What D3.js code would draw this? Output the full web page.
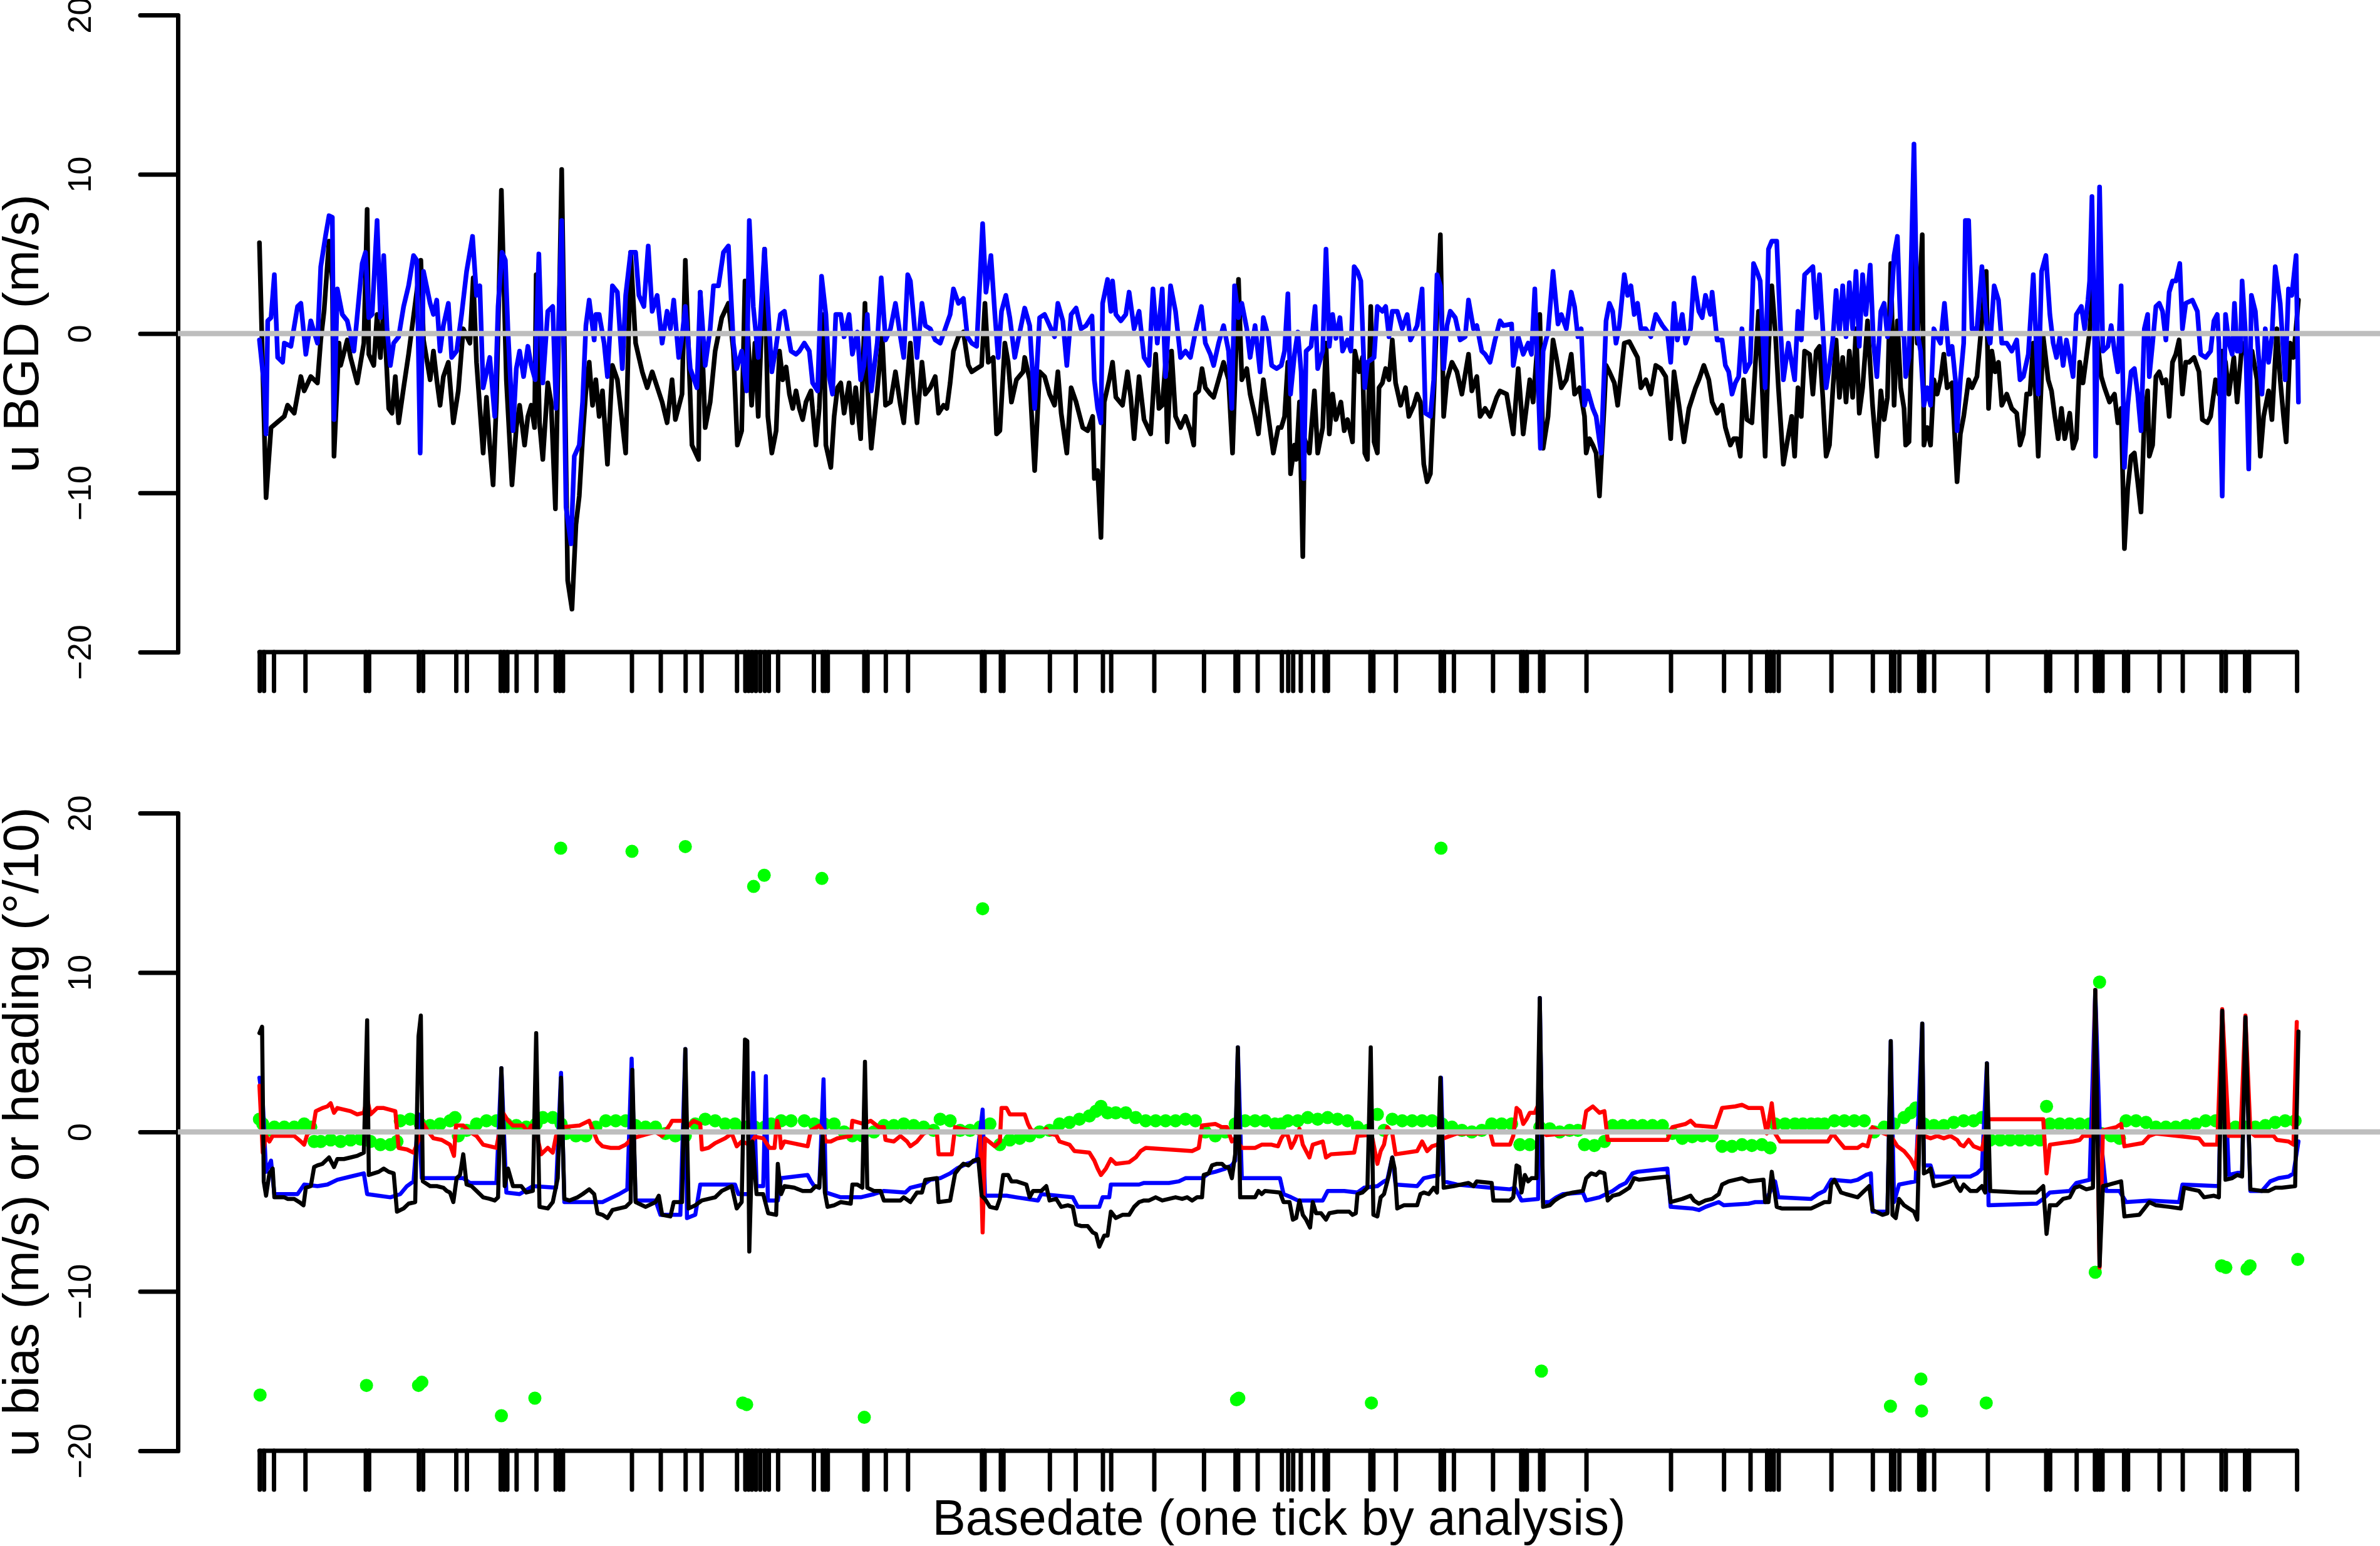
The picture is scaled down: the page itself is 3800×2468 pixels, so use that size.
<!DOCTYPE html>
<html>
<head>
<meta charset="utf-8">
<script src="https://cdn.jsdelivr.net/npm/d3@7"></script>
<style>body{margin:0;background:#ffffff;}</style>
</head>
<body>
<script>
// basedate of each analysis (one tick each), same time units as the series
var analysisT = [25,38,68,163,345,355,505,518,618,650,752,762,772,800,860,918,930,940,1148,1235,1310,1358,1465,1490,1500,1510,1522,1535,
  1549,1561,1589,1697,1724,1731,1739,1849,1859,1914,1981,2204,2212,2261,2269,2409,2487,2569,2594,2724,2874,2969,2977,3036,3109,
  3128,3143,3166,3203,3238,3248,3376,3385,3453,3588,3598,3628,3746,3831,3838,3848,3888,3898,4028,4283,4443,4523,4573,4583,4593,4608,
  4767,4892,4947,4957,4972,5032,5040,5047,5077,5239,5415,5427,5507,5562,5569,5577,5585,5650,5662,5757,5827,5944,5957,6015,6027,6172];
var yTicks = [-20, -10, 0, 10, 20];
var yDomain = [-20, 20];

// top panel: u background departure (black) and second u BGD (blue)
var bgdBlack = [[25,5.7],[45,-10.3],[60,-5.9],[100,-5.2],[110,-4.5],[130,-5.0],[150,-2.7],[160,-3.6],[180,-2.7],[200,-3.1],[210,-0.4],[220,1.4],[235,5.8],[245,3.3],[250,-7.7],[265,-0.6],[270,-2.0],[290,-0.4],[300,-1.5],[320,-3.1],[340,-0.6],[350,7.8],[355,-1.3],[370,-2.0],[380,1.2],[390,-1.5],[400,1.7],[415,-4.7],[425,-5.0],[435,-2.7],[445,-5.6],[460,-3.4],[475,-1.3],[485,0.3],[512,4.6],[520,-0.4],[540,-2.9],[550,-1.1],[560,-2.9],[570,-4.5],[580,-2.7],[595,-1.8],[610,-5.6],[625,-3.6],[640,0.3],[660,-0.6],[670,3.5],[680,-1.8],[700,-7.5],[710,-4.0],[720,-7.0],[730,-9.5],[740,-4.3],[755,9.0],[770,-2.9],[787,-9.5],[800,-5.9],[810,-4.5],[825,-7.0],[835,-5.2],[845,-4.5],[855,-5.9],[860,3.7],[870,-5.6],[880,-7.9],[895,-3.1],[905,-4.3],[918,-11.0],[937,10.3],[945,-0.6],[955,-15.5],[968,-17.3],[980,-12.0],[990,-10.2],[1000,-6.6],[1010,-3.6],[1020,-1.8],[1030,-4.5],[1040,-2.9],[1050,-5.2],[1060,-3.6],[1075,-8.2],[1090,-2.0],[1105,-2.9],[1130,-7.5],[1145,5.1],[1160,-0.6],[1180,-2.4],[1195,-3.4],[1210,-2.4],[1240,-4.3],[1255,-5.6],[1270,-2.9],[1280,-5.4],[1300,-3.8],[1310,4.6],[1330,-7.0],[1350,-7.9],[1355,2.6],[1370,-5.9],[1385,-4.3],[1400,-1.1],[1420,1.0],[1440,1.9],[1455,-1.1],[1467,-7.0],[1480,-6.1],[1490,3.3],[1510,-4.5],[1520,-0.6],[1530,-5.2],[1549,5.3],[1559,-5.2],[1571,-7.5],[1584,-6.1],[1594,-1.1],[1604,-2.9],[1614,-2.1],[1624,-3.8],[1634,-4.7],[1644,-3.6],[1654,-4.7],[1664,-5.4],[1674,-4.3],[1689,-3.6],[1704,-7.0],[1714,-4.7],[1727,1.2],[1734,-7.0],[1749,-8.4],[1759,-5.2],[1769,-3.4],[1779,-3.1],[1789,-5.0],[1804,-3.1],[1814,-5.6],[1824,-3.4],[1839,-6.6],[1852,1.9],[1859,-3.1],[1871,-7.2],[1889,-3.6],[1904,-0.2],[1914,-4.5],[1929,-4.3],[1944,-2.4],[1959,-4.5],[1969,-5.6],[1989,-0.6],[1999,-3.4],[2009,-5.6],[2024,-1.8],[2034,-3.8],[2049,-3.4],[2064,-2.7],[2074,-5.0],[2089,-4.5],[2099,-4.7],[2109,-3.1],[2119,-1.1],[2134,-0.2],[2149,0.1],[2164,-2.0],[2174,-2.4],[2189,-2.2],[2204,-2.0],[2214,1.9],[2224,-1.8],[2239,-1.5],[2249,-6.3],[2259,-6.1],[2274,-0.6],[2284,-1.8],[2294,-4.3],[2309,-2.9],[2329,-2.4],[2334,-1.5],[2349,-2.9],[2364,-8.6],[2379,-2.4],[2394,-2.7],[2409,-3.8],[2424,-4.5],[2434,-2.4],[2444,-5.0],[2461,-7.5],[2474,-3.4],[2489,-4.3],[2509,-5.9],[2524,-6.1],[2539,-5.2],[2544,-9.1],[2554,-8.6],[2564,-12.8],[2574,-4.3],[2589,-2.9],[2599,-1.8],[2609,-4.0],[2629,-4.5],[2644,-2.4],[2654,-4.0],[2664,-6.6],[2679,-2.7],[2694,-5.4],[2714,-6.3],[2729,-1.3],[2739,-4.7],[2749,-4.5],[2759,-1.8],[2764,-6.8],[2777,-1.1],[2789,-5.2],[2804,-5.9],[2819,-5.2],[2834,-6.1],[2844,-7.0],[2849,-3.8],[2859,-3.6],[2869,-2.2],[2879,-3.4],[2894,-3.8],[2904,-4.0],[2919,-2.9],[2934,-1.8],[2949,-2.9],[2961,-7.5],[2979,3.4],[2989,-2.9],[3004,-2.2],[3014,-3.8],[3029,-5.2],[3039,-6.3],[3054,-2.9],[3069,-5.2],[3084,-7.5],[3099,-5.9],[3108,-5.9],[3118,-5.2],[3128,-1.8],[3136,-8.8],[3148,-7.0],[3153,-7.9],[3163,-4.3],[3173,-14.0],[3178,-6.6],[3193,-7.5],[3208,-3.6],[3218,-7.5],[3233,-5.9],[3243,-0.6],[3253,-6.3],[3263,-3.8],[3273,-5.4],[3288,-4.3],[3298,-6.1],[3308,-5.4],[3323,-6.8],[3330,-1.1],[3343,-2.4],[3353,-1.5],[3360,-7.5],[3368,-7.9],[3378,1.7],[3388,-6.8],[3398,-7.5],[3403,-3.4],[3413,-3.1],[3423,-2.2],[3433,-2.9],[3443,-0.4],[3453,-3.1],[3468,-4.5],[3483,-3.4],[3493,-5.2],[3508,-4.5],[3518,-3.8],[3528,-4.3],[3538,-8.2],[3548,-9.3],[3558,-8.8],[3568,-4.0],[3578,1.4],[3588,6.2],[3598,-5.2],[3608,-2.9],[3623,-1.8],[3638,-2.4],[3653,-3.8],[3673,-1.3],[3683,-3.6],[3698,-2.7],[3708,-5.2],[3723,-4.7],[3738,-5.2],[3758,-4.0],[3768,-3.6],[3788,-3.8],[3808,-6.3],[3823,-2.2],[3838,-6.3],[3858,-2.9],[3868,-4.3],[3888,1.2],[3898,-7.2],[3913,-5.2],[3928,-0.4],[3938,-1.5],[3953,-3.4],[3968,-2.9],[3983,-1.3],[3993,-3.8],[4008,-3.4],[4023,-5.2],[4028,-7.5],[4038,-6.6],[4048,-7.0],[4058,-7.5],[4068,-10.2],[4083,-4.3],[4088,-2.0],[4098,-2.4],[4113,-3.1],[4123,-4.5],[4143,-0.6],[4158,-0.5],[4173,-1.1],[4183,-1.5],[4193,-3.4],[4208,-2.9],[4223,-3.8],[4238,-2.0],[4253,-2.2],[4268,-2.7],[4283,-6.6],[4293,-2.4],[4308,-4.5],[4323,-6.8],[4338,-4.7],[4358,-3.4],[4368,-2.9],[4383,-2.0],[4398,-2.9],[4408,-4.3],[4423,-5.0],[4438,-4.5],[4448,-5.9],[4463,-7.0],[4473,-6.6],[4483,-6.6],[4493,-7.7],[4503,-2.9],[4513,-5.4],[4528,-5.6],[4548,1.4],[4558,-2.9],[4568,-7.7],[4578,-1.1],[4588,3.0],[4598,0.3],[4608,-3.4],[4623,-8.2],[4633,-7.0],[4648,-5.2],[4657,-7.7],[4667,-3.4],[4677,-5.2],[4687,-1.1],[4702,-1.3],[4712,-3.8],[4722,-1.1],[4732,-0.8],[4742,-4.0],[4752,-7.7],[4762,-7.0],[4772,-3.6],[4782,-0.4],[4792,-4.0],[4802,-1.5],[4812,-4.3],[4822,-1.1],[4832,-4.0],[4842,0.3],[4852,-5.0],[4862,-3.4],[4877,0.8],[4892,-4.5],[4905,-7.7],[4917,-3.6],[4927,-5.4],[4937,-4.0],[4947,4.4],[4957,-4.5],[4967,0.8],[4977,-3.4],[4987,-4.7],[4992,-7.0],[5002,-6.8],[5017,4.6],[5027,-0.6],[5042,6.2],[5047,-7.0],[5057,-5.9],[5067,-7.0],[5077,-2.9],[5087,-3.8],[5097,-2.9],[5107,-1.3],[5117,-3.4],[5132,-3.1],[5147,-9.3],[5157,-6.3],[5167,-5.2],[5182,-2.9],[5192,-3.4],[5207,-2.7],[5222,0.8],[5235,3.9],[5242,-4.7],[5252,-1.1],[5262,-2.4],[5272,-1.8],[5282,-4.5],[5297,-3.8],[5312,-4.7],[5327,-5.0],[5337,-7.0],[5347,-6.3],[5357,-3.8],[5367,-3.8],[5377,-0.6],[5392,-7.7],[5407,-0.2],[5422,-2.9],[5432,-3.6],[5442,-5.2],[5452,-6.6],[5462,-4.7],[5472,-6.6],[5487,-5.0],[5497,-7.2],[5507,-6.6],[5517,-1.8],[5527,-3.1],[5537,-1.5],[5547,0.1],[5557,3.0],[5567,0.3],[5582,-2.7],[5592,-3.4],[5607,-4.3],[5622,-3.8],[5632,-5.6],[5642,-4.7],[5652,-13.5],[5662,-9.7],[5672,-7.7],[5682,-7.5],[5692,-9.3],[5702,-11.2],[5712,-5.4],[5722,-3.6],[5727,-7.7],[5737,-7.0],[5747,-2.7],[5757,-2.4],[5767,-3.1],[5777,-2.9],[5787,-5.2],[5797,-1.8],[5807,-1.3],[5817,-0.4],[5827,-3.8],[5837,-1.8],[5847,-1.8],[5862,-1.5],[5877,-2.4],[5887,-5.4],[5902,-5.6],[5912,-5.2],[5927,-2.9],[5937,-3.8],[5947,-1.1],[5957,-1.8],[5967,-3.8],[5982,-1.5],[5992,-4.3],[6007,-0.6],[6022,-1.5],[6037,-1.1],[6052,-2.9],[6062,-7.7],[6072,-5.2],[6087,-3.6],[6097,-5.4],[6112,0.3],[6122,-2.9],[6132,-5.2],[6140,-6.8],[6152,-0.6],[6162,-1.5],[6177,2.1]];

var bgdBlue = [[25,-0.4],[40,-3.4],[45,-6.3],[50,0.8],[60,1.0],[70,3.7],[80,-1.5],[95,-1.8],[100,-0.6],[120,-0.8],[140,1.7],[150,1.9],[165,-1.3],[180,0.8],[200,-0.6],[210,4.2],[225,6.2],[235,7.4],[245,7.3],[250,-5.4],[260,2.8],[275,1.2],[290,0.8],[310,-1.1],[335,4.4],[345,5.1],[355,1.0],[365,1.2],[380,7.1],[390,1.0],[400,4.9],[410,0.3],[420,-2.0],[430,-0.6],[445,-0.2],[460,1.7],[475,3.0],[490,4.9],[500,4.6],[510,-7.5],[520,3.9],[540,1.9],[550,1.2],[560,2.1],[570,-1.1],[580,0.5],[595,1.9],[605,-1.5],[620,-1.1],[635,1.2],[650,3.9],[668,6.1],[680,2.4],[690,3.0],[700,-3.4],[720,-1.5],[735,-5.2],[745,1.7],[757,5.1],[767,4.6],[775,0.1],[790,-6.1],[800,-2.2],[810,-1.1],[822,-2.7],[835,-0.8],[845,-2.0],[857,-2.9],[868,5.0],[880,-3.1],[895,1.4],[910,1.7],[920,-4.7],[937,7.1],[950,-10.9],[965,-13.2],[975,-7.7],[990,-7.0],[1000,-4.3],[1010,0.5],[1020,2.1],[1035,-0.4],[1040,1.2],[1050,1.2],[1065,-0.6],[1075,-2.7],[1090,3.0],[1105,2.6],[1120,-2.2],[1130,2.4],[1145,5.1],[1160,5.1],[1170,2.4],[1185,1.7],[1198,5.5],[1210,1.4],[1225,2.4],[1240,-0.6],[1255,1.4],[1265,0.3],[1275,2.1],[1290,-1.5],[1300,-0.2],[1310,1.7],[1325,-2.2],[1345,-3.4],[1355,2.6],[1370,-2.0],[1385,0.3],[1395,3.0],[1410,3.0],[1425,5.1],[1440,5.5],[1455,-0.6],[1465,-2.2],[1480,-1.1],[1495,-3.6],[1503,7.1],[1515,1.7],[1530,-1.5],[1549,5.3],[1559,1.7],[1571,-2.4],[1584,-0.8],[1597,1.2],[1609,1.4],[1619,0.1],[1629,-1.1],[1644,-1.3],[1654,-1.1],[1669,-0.6],[1684,-1.1],[1694,-3.1],[1709,-3.6],[1721,3.6],[1734,1.2],[1744,-2.7],[1754,-3.8],[1764,1.2],[1779,1.2],[1789,-0.2],[1804,1.2],[1814,-1.3],[1829,0.1],[1839,-2.9],[1849,-2.0],[1859,1.2],[1871,-3.6],[1889,-0.6],[1901,3.5],[1914,-0.4],[1929,0.3],[1944,1.9],[1959,-0.2],[1969,-1.5],[1981,3.7],[1989,3.3],[1999,1.0],[2009,-1.5],[2024,1.9],[2034,0.5],[2049,0.3],[2064,-0.4],[2079,-0.6],[2094,0.3],[2109,1.2],[2119,2.8],[2134,1.9],[2149,2.2],[2161,-0.2],[2174,-0.6],[2189,-0.8],[2207,6.9],[2217,2.6],[2232,4.9],[2244,1.2],[2254,-1.5],[2264,1.4],[2277,2.4],[2289,1.0],[2304,-1.5],[2319,0.1],[2334,1.6],[2349,0.5],[2364,-4.7],[2379,1.0],[2394,1.2],[2409,0.5],[2424,-0.2],[2434,1.9],[2449,0.8],[2461,-2.0],[2474,1.2],[2489,1.6],[2504,0.3],[2519,0.5],[2537,1.1],[2544,-2.9],[2554,-4.7],[2564,-5.6],[2569,1.9],[2584,3.4],[2594,1.4],[2599,3.3],[2609,1.2],[2624,0.8],[2639,1.2],[2649,2.6],[2664,0.3],[2679,1.4],[2694,-1.5],[2709,-2.0],[2721,2.8],[2734,-0.6],[2749,2.8],[2759,-2.7],[2774,3.0],[2789,1.4],[2804,-1.5],[2819,-1.1],[2834,-1.5],[2849,0.1],[2867,1.7],[2879,-0.6],[2894,-1.3],[2904,-2.0],[2919,-0.6],[2934,0.5],[2949,-1.1],[2959,-4.7],[2967,3.0],[2979,1.0],[2989,1.9],[3004,0.3],[3014,-1.5],[3029,0.5],[3044,-2.4],[3054,1.0],[3069,-0.2],[3079,-2.0],[3094,-2.2],[3108,-2.0],[3118,-1.1],[3128,2.5],[3136,-3.8],[3148,-1.3],[3158,0.1],[3168,-2.4],[3176,-9.1],[3183,-1.1],[3198,-0.8],[3210,1.7],[3218,-2.2],[3233,-1.1],[3243,5.3],[3253,-0.8],[3263,1.2],[3273,-0.3],[3285,1.0],[3293,-1.1],[3308,-0.4],[3318,-1.1],[3328,4.2],[3338,3.9],[3348,3.3],[3360,-3.4],[3368,-1.8],[3388,-1.5],[3398,1.7],[3413,1.4],[3423,1.7],[3433,-0.2],[3443,1.4],[3458,1.4],[3473,0.3],[3488,1.2],[3498,-0.4],[3518,0.5],[3533,2.8],[3543,-5.0],[3558,-5.2],[3568,-2.9],[3578,3.7],[3588,3.0],[3598,-2.2],[3608,0.5],[3618,1.4],[3633,1.0],[3648,-0.4],[3663,-0.2],[3673,2.1],[3688,0.3],[3698,0.5],[3713,-1.1],[3723,-1.3],[3738,-1.8],[3753,-0.4],[3768,0.8],[3778,0.5],[3803,0.6],[3808,-2.0],[3823,-0.2],[3838,-1.3],[3853,-0.6],[3863,-1.3],[3873,2.8],[3890,-7.2],[3898,-1.1],[3913,0.1],[3928,3.9],[3943,0.6],[3953,1.2],[3968,0.3],[3983,2.6],[3993,1.7],[4003,-0.2],[4013,0.3],[4023,-4.5],[4033,-3.6],[4048,-4.7],[4058,-5.2],[4073,-7.5],[4083,-2.0],[4088,0.8],[4098,1.9],[4108,1.4],[4118,-0.6],[4128,0.5],[4143,3.7],[4153,2.4],[4163,3.0],[4173,1.2],[4183,1.9],[4193,0.3],[4208,0.3],[4223,-0.2],[4238,1.2],[4258,0.5],[4273,0.1],[4283,-1.8],[4293,1.9],[4303,-0.4],[4318,1.2],[4328,-0.6],[4343,0.3],[4353,3.5],[4368,1.4],[4378,1.0],[4388,2.4],[4403,1.2],[4408,2.6],[4423,-0.4],[4438,-0.4],[4448,-2.0],[4458,-2.4],[4468,-3.8],[4478,-3.1],[4488,-2.7],[4498,0.3],[4508,-2.4],[4523,-1.8],[4533,4.4],[4543,3.9],[4553,3.3],[4568,-3.4],[4578,5.3],[4588,5.8],[4603,5.8],[4613,0.8],[4623,-2.9],[4638,-0.6],[4657,-2.9],[4667,1.4],[4677,-0.4],[4687,3.7],[4697,3.9],[4712,4.2],[4722,1.0],[4732,3.7],[4742,0.3],[4752,-3.4],[4762,-2.0],[4772,-0.4],[4782,2.7],[4792,0.1],[4802,3.0],[4812,-0.2],[4822,3.2],[4832,0.3],[4842,3.9],[4852,-0.8],[4862,3.7],[4872,1.2],[4885,4.3],[4895,-0.6],[4905,-2.7],[4917,1.4],[4927,1.9],[4937,-0.2],[4947,1.2],[4957,4.9],[4967,6.1],[4977,0.1],[4987,-0.2],[4992,-2.7],[5002,-1.5],[5017,11.9],[5027,0.1],[5037,-1.1],[5047,-4.5],[5057,-3.4],[5067,-4.5],[5077,0.3],[5087,-0.2],[5097,-0.6],[5109,1.9],[5122,-1.3],[5132,-0.8],[5142,-2.9],[5147,-6.1],[5157,-2.9],[5167,-0.6],[5172,7.1],[5182,7.1],[5192,0.3],[5207,0.3],[5222,4.2],[5237,0.3],[5247,-0.6],[5259,3.0],[5272,2.1],[5282,-0.6],[5297,-0.6],[5312,-1.1],[5327,-0.4],[5337,-2.9],[5347,-2.7],[5362,-1.3],[5377,3.7],[5392,-3.8],[5402,3.9],[5415,4.9],[5427,1.2],[5437,-0.6],[5447,-1.5],[5457,-0.2],[5467,-2.0],[5477,-0.4],[5487,-1.5],[5497,-2.7],[5507,1.2],[5522,1.7],[5532,0.3],[5542,2.1],[5547,3.3],[5554,8.6],[5562,-0.4],[5565,-7.7],[5577,9.2],[5587,-1.1],[5602,-0.8],[5612,0.5],[5622,-1.1],[5632,-2.4],[5642,3.0],[5652,-8.4],[5662,-4.5],[5672,-2.4],[5682,-2.2],[5692,-3.8],[5702,-6.1],[5712,0.3],[5722,1.2],[5727,-2.7],[5737,-0.6],[5747,1.7],[5757,1.9],[5767,1.4],[5777,-0.4],[5787,2.6],[5797,3.3],[5807,3.3],[5819,4.4],[5827,0.3],[5837,1.9],[5857,2.1],[5872,1.4],[5882,-1.3],[5897,-1.5],[5912,-1.1],[5922,0.8],[5932,1.2],[5937,-0.6],[5947,-10.2],[5957,1.2],[5967,-0.6],[5977,-1.3],[5984,1.9],[5992,-1.1],[6002,-1.1],[6007,3.3],[6017,0.1],[6027,-8.5],[6035,2.4],[6047,1.4],[6057,-1.5],[6067,-3.8],[6077,0.3],[6087,-1.8],[6097,-0.2],[6107,4.2],[6122,1.9],[6137,-2.9],[6147,2.8],[6157,2.4],[6170,4.9],[6177,-4.3]];

// bottom panel: u bias (black, blue, red) and heading /10 (green points)
var biasBlack = [[25,6.2],[33,6.6],[38,-3.1],[45,-4.0],[55,-2.6],[65,-2.3],[70,-4.1],[100,-4.1],[110,-4.2],[130,-4.2],[145,-4.4],[158,-4.6],[165,-3.5],[180,-3.4],[190,-2.2],[200,-2.1],[215,-2.0],[235,-1.6],[250,-2.2],[260,-1.7],[280,-1.7],[300,-1.6],[320,-1.5],[340,-1.3],[350,7.0],[355,-2.7],[370,-2.6],[385,-2.5],[400,-2.3],[415,-2.5],[430,-2.6],[440,-5.0],[460,-4.8],[475,-4.5],[495,-4.4],[505,6.0],[512,7.3],[518,-3.1],[540,-3.4],[560,-3.4],[580,-3.5],[590,-3.7],[600,-3.8],[610,-4.4],[620,-2.9],[630,-2.7],[640,-1.4],[650,-3.3],[665,-3.4],[680,-3.7],[700,-4.1],[720,-4.2],[735,-4.3],[745,-4.1],[755,4.0],[765,-3.4],[775,-2.3],[790,-3.4],[815,-3.4],[830,-3.8],[850,-3.7],[860,6.2],[870,-4.7],[895,-4.8],[910,-4.4],[925,-2.9],[935,3.4],[945,-4.2],[960,-4.3],[985,-4.1],[1000,-3.9],[1020,-3.6],[1035,-3.9],[1045,-5.1],[1060,-5.2],[1075,-5.4],[1090,-4.9],[1110,-4.8],[1130,-4.7],[1145,-4.4],[1150,3.9],[1160,-4.4],[1190,-4.7],[1220,-4.4],[1230,-4.0],[1240,-5.2],[1265,-5.3],[1275,-4.4],[1300,-4.4],[1310,5.2],[1320,-4.8],[1340,-4.6],[1360,-4.3],[1400,-4.1],[1420,-3.7],[1450,-3.4],[1465,-4.8],[1480,-4.4],[1490,5.8],[1497,5.7],[1503,-7.5],[1512,-0.6],[1525,-3.9],[1545,-3.9],[1560,-5.1],[1584,-5.2],[1589,-2.0],[1599,-3.9],[1609,-3.4],[1639,-3.5],[1664,-3.7],[1689,-3.7],[1704,-3.4],[1714,-3.5],[1724,-0.25],[1731,-3.8],[1739,-4.7],[1759,-4.6],[1779,-4.4],[1809,-4.5],[1814,-3.3],[1829,-3.3],[1844,-3.5],[1852,4.4],[1859,-3.5],[1879,-3.7],[1899,-3.7],[1909,-4.3],[1959,-4.3],[1969,-4.1],[1989,-4.4],[2009,-3.8],[2024,-3.8],[2034,-3.0],[2069,-2.9],[2074,-4.4],[2109,-4.3],[2124,-2.6],[2139,-2.2],[2149,-2.0],[2164,-2.1],[2179,-1.8],[2194,-1.7],[2204,-4.0],[2214,-4.2],[2229,-4.7],[2249,-4.8],[2259,-4.2],[2269,-2.7],[2284,-2.7],[2294,-3.1],[2309,-3.1],[2339,-3.3],[2349,-4.1],[2359,-3.7],[2384,-3.7],[2399,-3.4],[2409,-4.3],[2429,-4.2],[2444,-4.7],[2464,-4.6],[2479,-4.7],[2489,-5.8],[2504,-5.9],[2524,-5.9],[2539,-6.3],[2549,-6.4],[2559,-7.2],[2574,-6.5],[2584,-6.5],[2594,-5.0],[2609,-5.4],[2629,-5.2],[2649,-5.2],[2664,-4.7],[2679,-4.4],[2694,-4.3],[2709,-4.3],[2729,-4.1],[2749,-4.3],[2769,-4.2],[2789,-4.1],[2809,-4.2],[2824,-4.1],[2839,-4.3],[2854,-4.1],[2869,-4.1],[2874,-2.7],[2889,-2.6],[2899,-2.1],[2914,-2.0],[2929,-2.0],[2939,-2.2],[2949,-2.2],[2959,-2.9],[2969,-1.4],[2977,5.3],[2984,-4.1],[3029,-4.1],[3039,-3.7],[3049,-3.9],[3059,-3.7],[3104,-3.8],[3115,-4.4],[3133,-4.4],[3143,-5.5],[3153,-5.4],[3163,-4.3],[3173,-5.2],[3183,-5.5],[3195,-6.0],[3203,-4.4],[3213,-5.1],[3228,-5.1],[3243,-5.5],[3253,-5.1],[3278,-5.0],[3313,-5.0],[3323,-5.2],[3333,-5.1],[3338,-3.9],[3353,-3.8],[3368,-3.5],[3378,5.3],[3386,-5.2],[3398,-5.3],[3408,-4.1],[3418,-3.9],[3433,-2.7],[3443,-1.6],[3450,-2.3],[3458,-4.8],[3478,-4.6],[3518,-4.6],[3528,-3.9],[3538,-3.8],[3553,-3.9],[3568,-3.5],[3578,-3.8],[3588,3.4],[3598,-3.5],[3628,-3.4],[3673,-3.2],[3688,-3.4],[3698,-3.1],[3743,-3.2],[3748,-4.3],[3798,-4.3],[3808,-4.1],[3818,-2.1],[3826,-2.2],[3833,-3.8],[3843,-2.7],[3853,-3.1],[3863,-2.9],[3878,-2.9],[3888,8.4],[3898,-4.7],[3918,-4.6],[3933,-4.3],[3948,-4.1],[3968,-3.9],[3988,-3.8],[4018,-3.7],[4028,-2.9],[4043,-2.6],[4058,-2.7],[4068,-2.5],[4083,-2.6],[4093,-4.3],[4108,-4.0],[4128,-3.9],[4143,-3.7],[4158,-3.5],[4173,-2.9],[4188,-3.0],[4228,-2.9],[4273,-2.8],[4283,-4.4],[4318,-4.2],[4343,-4.0],[4353,-4.3],[4368,-4.5],[4388,-4.3],[4408,-4.2],[4428,-3.9],[4438,-3.3],[4458,-3.1],[4498,-2.9],[4518,-3.1],[4563,-3.0],[4568,-4.4],[4578,-4.4],[4588,-2.5],[4603,-4.7],[4618,-4.8],[4677,-4.8],[4707,-4.8],[4727,-4.6],[4747,-4.4],[4762,-4.4],[4767,-3.3],[4777,-3.0],[4787,-3.4],[4797,-3.8],[4812,-3.9],[4847,-4.1],[4862,-3.8],[4882,-3.4],[4892,-4.9],[4922,-5.2],[4937,-5.1],[4947,5.7],[4952,-5.2],[4962,-5.4],[4972,-4.2],[4987,-4.6],[5002,-4.8],[5017,-5.0],[5027,-5.5],[5042,6.8],[5047,-2.6],[5057,-2.5],[5067,-2.3],[5077,-3.4],[5097,-3.3],[5127,-3.1],[5137,-2.9],[5147,-3.4],[5157,-3.7],[5167,-3.3],[5187,-3.7],[5207,-3.7],[5222,-3.4],[5232,-3.8],[5237,4.3],[5247,-3.7],[5337,-3.8],[5387,-3.8],[5407,-3.4],[5417,-6.4],[5427,-4.6],[5447,-4.6],[5467,-4.2],[5487,-4.1],[5502,-3.5],[5517,-3.4],[5537,-3.6],[5557,-3.5],[5564,8.9],[5577,-8.4],[5587,-3.4],[5607,-3.3],[5642,-3.1],[5652,-5.3],[5697,-5.2],[5712,-4.8],[5727,-4.4],[5747,-4.6],[5787,-4.7],[5822,-4.8],[5832,-3.5],[5877,-3.7],[5892,-4.1],[5922,-4.0],[5937,-4.1],[5947,7.6],[5957,-3.0],[5977,-2.9],[5992,-2.7],[6007,-2.8],[6017,7.2],[6032,-3.6],[6067,-3.7],[6087,-3.7],[6107,-3.5],[6127,-3.5],[6167,-3.4],[6177,6.3]];

var biasBlue = [[25,3.4],[35,1.9],[45,-2.5],[60,-1.8],[70,-3.9],[140,-3.9],[160,-3.3],[200,-3.4],[230,-3.3],[260,-3.0],[300,-2.8],[340,-2.6],[350,-3.9],[420,-4.1],[450,-3.9],[470,-3.4],[490,-3.1],[505,1.1],[515,-2.9],[610,-2.9],[640,-2.9],[660,-3.2],[740,-3.2],[755,4.0],[770,-3.8],[810,-3.9],[850,-3.4],[920,-3.5],[935,3.7],[945,-4.4],[1060,-4.4],[1080,-4.2],[1110,-3.9],[1135,-3.6],[1148,4.6],[1160,-4.3],[1220,-4.3],[1235,-5.2],[1295,-5.2],[1310,5.2],[1315,-5.4],[1340,-5.2],[1355,-3.3],[1460,-3.3],[1470,-3.9],[1505,-3.9],[1515,3.7],[1525,-3.4],[1545,-3.4],[1553,3.5],[1559,-4.3],[1589,-4.3],[1599,-2.9],[1639,-2.8],[1679,-2.7],[1689,-3.1],[1699,-3.4],[1714,-3.5],[1727,3.3],[1734,-3.8],[1779,-4.1],[1839,-4.1],[1879,-3.9],[1909,-3.7],[1974,-3.8],[1989,-3.5],[2029,-3.3],[2049,-3.0],[2079,-2.9],[2109,-2.6],[2129,-2.3],[2159,-2.0],[2189,-1.8],[2207,1.4],[2214,-4.0],[2279,-4.0],[2309,-4.1],[2374,-4.3],[2384,-3.9],[2479,-4.1],[2494,-4.7],[2559,-4.7],[2569,-4.1],[2589,-4.1],[2594,-3.3],[2679,-3.3],[2694,-3.2],[2769,-3.2],[2799,-3.1],[2819,-2.9],[2869,-2.9],[2889,-2.6],[2909,-2.5],[2939,-2.3],[2959,-2.1],[2969,-1.8],[2977,5.3],[2989,-2.9],[3104,-2.9],[3115,-3.9],[3138,-4.1],[3158,-4.3],[3233,-4.3],[3248,-3.7],[3298,-3.7],[3338,-3.8],[3358,-3.5],[3398,-3.4],[3418,-3.1],[3428,-3.0],[3443,-1.6],[3453,-3.3],[3518,-3.4],[3538,-2.9],[3583,-2.7],[3590,3.4],[3598,-3.1],[3638,-3.3],[3738,-3.5],[3798,-3.6],[3813,-3.5],[3833,-4.3],[3883,-4.2],[3888,8.4],[3898,-4.4],[3918,-4.4],[3938,-4.1],[3958,-3.9],[4018,-3.8],[4028,-4.3],[4068,-4.1],[4108,-3.7],[4128,-3.4],[4148,-3.2],[4168,-2.6],[4183,-2.5],[4273,-2.3],[4283,-4.7],[4348,-4.8],[4368,-4.9],[4388,-4.7],[4428,-4.4],[4443,-4.6],[4518,-4.5],[4538,-4.4],[4568,-4.4],[4598,-3.1],[4608,-4.1],[4707,-4.2],[4727,-3.9],[4747,-3.7],[4767,-3.0],[4827,-3.1],[4847,-3.0],[4872,-2.7],[4887,-2.6],[4892,-5.0],[4937,-5.0],[4947,5.7],[4957,-4.4],[4972,-3.3],[5022,-3.1],[5042,6.8],[5047,-2.1],[5067,-2.1],[5077,-2.8],[5187,-2.8],[5207,-2.6],[5222,-2.3],[5237,4.3],[5242,-4.6],[5387,-4.5],[5407,-4.2],[5427,-3.8],[5487,-3.7],[5507,-3.2],[5547,-3.0],[5564,8.9],[5577,0.3],[5597,-3.7],[5637,-3.7],[5657,-4.4],[5727,-4.3],[5817,-4.4],[5827,-3.3],[5937,-3.4],[5947,7.6],[5967,-2.7],[6007,-2.5],[6017,7.2],[6032,-3.7],[6067,-3.7],[6092,-3.1],[6117,-2.9],[6147,-2.8],[6162,-2.6],[6177,-0.6]];

var biasRed = [[25,2.9],[35,-1.3],[45,-0.25],[55,-0.6],[65,-0.25],[130,-0.25],[150,-0.6],[160,-0.8],[170,-0.1],[185,0.0],[195,1.3],[215,1.5],[230,1.6],[240,1.8],[250,1.2],[260,1.5],[300,1.3],[320,1.1],[340,1.2],[350,2.1],[360,1.1],[380,1.5],[400,1.5],[435,1.3],[445,-1.0],[470,-1.1],[490,-1.3],[510,-0.25],[520,0.5],[535,0.0],[550,-0.4],[575,-0.5],[600,-0.8],[612,-1.5],[618,0.4],[640,0.4],[660,0.0],[680,-0.25],[700,-0.8],[720,-0.9],[740,-1.0],[760,1.2],[775,0.7],[790,0.4],[820,0.4],[835,0.0],[845,0.4],[860,0.0],[875,-1.4],[895,-1.0],[910,-1.3],[920,-0.25],[940,0.3],[990,0.4],[1020,0.7],[1045,-0.6],[1060,-0.9],[1085,-1.0],[1110,-1.0],[1130,-0.8],[1150,-0.4],[1200,-0.1],[1220,0.0],[1240,-0.25],[1265,0.5],[1270,0.7],[1300,0.7],[1320,0.4],[1335,0.7],[1355,0.5],[1360,-1.1],[1380,-1.0],[1400,-0.7],[1430,-0.4],[1450,-0.1],[1465,-0.9],[1480,-0.6],[1505,-0.8],[1520,-0.3],[1545,-0.4],[1564,-1.0],[1579,-1.0],[1587,0.7],[1594,0.1],[1599,-1.0],[1609,-0.6],[1679,-0.9],[1689,0.1],[1714,0.4],[1724,0.1],[1734,-0.6],[1749,-0.6],[1769,-0.4],[1809,-0.25],[1814,0.7],[1849,0.5],[1869,0.7],[1894,0.3],[1909,0.3],[1914,-0.5],[1939,-0.6],[1959,-0.25],[1979,-0.6],[1989,-0.9],[2009,-0.6],[2029,-0.1],[2049,0.1],[2069,0.0],[2074,-1.4],[2114,-1.4],[2124,0.3],[2199,-0.1],[2207,-6.3],[2214,-0.4],[2244,-0.9],[2259,-0.6],[2264,1.5],[2279,1.5],[2289,1.1],[2334,1.1],[2344,0.5],[2354,0.1],[2389,0.0],[2399,0.2],[2409,-0.1],[2429,-0.2],[2439,-0.6],[2469,-0.8],[2484,-1.2],[2529,-1.3],[2544,-1.8],[2554,-2.3],[2564,-2.7],[2579,-2.3],[2594,-1.7],[2609,-2.0],[2649,-1.9],[2669,-1.6],[2684,-1.2],[2699,-1.0],[2839,-1.2],[2859,-1.0],[2869,0.4],[2909,0.5],[2929,0.3],[2944,0.3],[2959,-0.6],[2969,-0.4],[2989,-1.0],[3029,-1.0],[3049,-0.8],[3079,-0.8],[3098,-0.9],[3108,-0.4],[3118,-0.1],[3128,-0.25],[3138,-1.0],[3148,-0.6],[3163,0.2],[3173,-0.8],[3183,-1.2],[3193,-1.6],[3203,-0.8],[3233,-0.6],[3243,-1.6],[3258,-1.4],[3328,-1.3],[3338,-0.25],[3368,-0.2],[3383,-0.4],[3398,-2.0],[3408,-1.2],[3418,-0.8],[3428,0.3],[3443,-0.1],[3453,-1.4],[3518,-1.2],[3533,-0.6],[3548,-1.2],[3563,-0.9],[3578,-0.8],[3598,-0.4],[3638,-0.1],[3698,-0.1],[3738,0.0],[3748,-0.8],[3798,-0.8],[3808,-0.25],[3818,1.5],[3828,1.3],[3838,0.5],[3848,0.8],[3858,1.2],[3873,1.2],[3883,1.7],[3893,0.0],[3908,-0.2],[4018,0.0],[4028,1.3],[4048,1.6],[4068,1.2],[4083,1.3],[4093,-0.5],[4273,-0.5],[4288,0.3],[4328,0.5],[4343,0.7],[4358,0.4],[4418,0.3],[4438,1.5],[4478,1.6],[4498,1.7],[4518,1.5],[4558,1.5],[4573,-0.1],[4588,1.8],[4598,-0.1],[4613,-0.6],[4757,-0.6],[4772,-0.1],[4787,-0.5],[4807,-1.0],[4847,-1.0],[4862,-0.8],[4877,-0.9],[4892,0.3],[4907,0.1],[4927,-0.1],[4947,-0.25],[4967,-0.9],[4987,-1.2],[5007,-1.7],[5022,-2.3],[5032,0.3],[5047,-0.25],[5067,-0.4],[5087,-0.25],[5107,-0.4],[5127,-0.25],[5147,-0.5],[5157,-0.8],[5167,-0.9],[5182,-0.5],[5197,-0.9],[5222,-1.1],[5242,0.8],[5407,0.8],[5417,-2.6],[5427,-0.8],[5497,-0.6],[5517,-0.5],[5527,-0.25],[5557,-0.25],[5564,8.9],[5577,-8.5],[5587,0.1],[5627,0.3],[5642,0.5],[5652,-0.9],[5707,-0.7],[5727,-0.25],[5747,-0.1],[5877,-0.4],[5892,-0.8],[5932,-0.8],[5947,7.7],[5967,-0.25],[6002,-0.25],[6017,7.3],[6032,0.0],[6047,-0.25],[6102,-0.25],[6112,-0.5],[6147,-0.6],[6162,-0.8],[6172,6.9]];

var headingBand = [[25,0.8],[35,0.5],[50,0.1],[70,0.3],[100,0.3],[130,0.3],[160,0.5],[180,0.3],[190,-0.6],[210,-0.6],[240,-0.5],[270,-0.6],[300,-0.5],[330,-0.45],[360,-0.6],[390,-0.8],[420,-0.8],[440,-0.6],[450,0.7],[480,0.8],[510,0.5],[540,0.4],[570,0.5],[600,0.7],[615,0.9],[625,-0.25],[650,0.1],[680,0.5],[710,0.7],[740,0.7],[770,0.5],[800,0.4],[830,0.3],[860,0.5],[880,0.9],[910,0.9],[935,0.5],[950,-0.1],[980,-0.25],[1010,-0.25],[1040,0.3],[1070,0.7],[1100,0.7],[1130,0.7],[1160,0.4],[1190,0.3],[1220,0.3],[1250,-0.1],[1280,-0.25],[1310,-0.25],[1340,0.5],[1370,0.8],[1400,0.7],[1430,0.5],[1460,0.5],[1490,0.3],[1520,0.3],[1549,0.3],[1569,0.5],[1599,0.7],[1629,0.7],[1669,0.7],[1699,0.5],[1729,0.5],[1759,0.5],[1789,0.0],[1814,-0.25],[1844,-0.25],[1879,0.0],[1909,0.4],[1939,0.4],[1969,0.5],[1999,0.4],[2029,0.3],[2059,0.1],[2079,0.8],[2109,0.7],[2139,0.1],[2169,0.1],[2199,0.3],[2229,0.5],[2259,-0.8],[2289,-0.5],[2319,-0.4],[2349,-0.25],[2379,0.0],[2409,0.1],[2439,0.5],[2469,0.6],[2499,0.8],[2529,1.0],[2549,1.3],[2564,1.6],[2584,1.2],[2609,1.2],[2639,1.2],[2669,0.9],[2699,0.7],[2729,0.7],[2759,0.7],[2789,0.7],[2819,0.8],[2849,0.7],[2879,0.0],[2909,-0.25],[2939,0.0],[2969,0.5],[2999,0.7],[3029,0.7],[3059,0.7],[3089,0.5],[3108,0.5],[3128,0.7],[3158,0.7],[3188,0.9],[3218,0.8],[3248,0.9],[3278,0.8],[3308,0.7],[3338,0.3],[3368,0.1],[3398,1.1],[3418,0.1],[3443,0.8],[3473,0.7],[3503,0.7],[3533,0.7],[3563,0.7],[3593,0.5],[3623,0.3],[3653,0.1],[3683,0.0],[3713,0.1],[3743,0.5],[3773,0.5],[3803,0.5],[3828,-0.8],[3858,-0.8],[3888,0.3],[3918,0.2],[3948,0.0],[3978,0.1],[4003,0.1],[4023,-0.8],[4053,-0.85],[4083,-0.6],[4108,0.4],[4138,0.4],[4168,0.4],[4198,0.4],[4228,0.4],[4258,0.4],[4288,-0.1],[4318,-0.4],[4348,-0.3],[4378,-0.25],[4408,-0.25],[4438,-0.9],[4468,-0.9],[4498,-0.8],[4528,-0.85],[4558,-0.8],[4583,-1.0],[4598,0.5],[4628,0.5],[4658,0.5],[4682,0.5],[4707,0.5],[4727,0.5],[4747,0.5],[4777,0.7],[4807,0.7],[4837,0.7],[4867,0.7],[4897,0.0],[4927,0.3],[4957,0.5],[4987,0.9],[5007,1.2],[5022,1.5],[5047,0.5],[5077,0.4],[5107,0.4],[5137,0.6],[5167,0.7],[5197,0.7],[5222,0.9],[5247,-0.5],[5277,-0.5],[5307,-0.5],[5337,-0.5],[5367,-0.5],[5397,-0.5],[5427,0.5],[5457,0.5],[5487,0.5],[5517,0.5],[5547,0.5],[5582,-0.1],[5612,-0.25],[5637,-0.4],[5657,0.7],[5687,0.7],[5717,0.6],[5747,0.3],[5777,0.3],[5807,0.3],[5837,0.4],[5867,0.5],[5897,0.7],[5927,0.7],[5957,0.3],[5987,0.3],[6017,0.3],[6047,0.3],[6077,0.4],[6107,0.6],[6137,0.7],[6167,0.7]];

var headingOut = [[934,17.8],[1149,17.6],[1310,17.9],[1516,15.4],[1548,16.1],[1722,15.9],[2207,14.0],[3590,17.8],[27,-16.5],[348,-15.9],[505,-15.9],[515,-15.7],[755,-17.8],[856,-16.7],[1483,-17.0],[1495,-17.1],[1850,-17.9],[2973,-16.8],[2980,-16.7],[3380,-17.0],[3893,-15.0],[4946,-17.2],[5038,-15.5],[5040,-17.5],[5235,-17.0],[5577,9.4],[5564,-8.8],[5945,-8.4],[5958,-8.5],[6022,-8.6],[6031,-8.4],[6175,-8.0],[5417,1.6]];

var W = 3800, H = 2468;
var FONT = "'Liberation Sans', Arial, Helvetica, sans-serif";
var AXIS_W = 7;

var svg = d3.select("body").append("svg")
    .attr("width", W)
    .attr("height", H)
    .style("display", "block")
    .style("background", "#ffffff");

// R style x range: data range plus 4% on each side
var tMin = d3.min(bgdBlack, function(d){return d[0];});
var tMax = d3.max(bgdBlack, function(d){return d[0];});
var tPad = 0.04 * (tMax - tMin);
var x = d3.scaleLinear().domain([tMin - tPad, tMax + tPad]).range([284, 3800]);

var panels = [
    {id: "top", top: 24, bottom: 1041, title: "u BGD (m/s)"},
    {id: "bot", top: 1298, bottom: 2316, title: "u bias (m/s) or heading (°/10)"}
];

function drawFrame(p){
    var y = d3.scaleLinear().domain(yDomain).range([p.bottom, p.top]);

    svg.append("clipPath").attr("id", "clip-" + p.id)
        .append("rect")
        .attr("x", x.range()[0]).attr("y", p.top)
        .attr("width", x.range()[1] - x.range()[0]).attr("height", p.bottom - p.top);

    // y axis, labels turned like R las=0
    var ya = svg.append("g").attr("transform", "translate(" + x.range()[0] + ",0)")
        .call(d3.axisLeft(y).tickValues(yTicks).tickSize(60).tickSizeOuter(0));
    ya.select(".domain").attr("stroke", "#000").attr("stroke-width", AXIS_W).attr("stroke-linecap", "round");
    ya.selectAll(".tick line").attr("stroke", "#000").attr("stroke-width", AXIS_W).attr("stroke-linecap", "round");
    ya.selectAll(".tick text")
        .attr("x", null).attr("dy", null)
        .attr("transform", "translate(-139,0) rotate(-90)")
        .attr("text-anchor", "middle")
        .attr("font-family", FONT)
        .attr("font-size", 52)
        .attr("fill", "#000");

    // one tick per analysis, no labels
    var xa = svg.append("g").attr("transform", "translate(0," + p.bottom + ")")
        .call(d3.axisBottom(x).tickValues(analysisT).tickSize(62).tickFormat(""));
    xa.select(".domain").remove();
    xa.selectAll(".tick line").attr("stroke", "#000").attr("stroke-width", AXIS_W).attr("stroke-linecap", "round");
    xa.append("line")
        .attr("x1", x(analysisT[0])).attr("x2", x(analysisT[analysisT.length - 1]))
        .attr("y1", 0).attr("y2", 0)
        .attr("stroke", "#000").attr("stroke-width", AXIS_W).attr("stroke-linecap", "round");

    svg.append("text")
        .attr("transform", "translate(61," + ((p.top + p.bottom) / 2) + ") rotate(-90)")
        .attr("text-anchor", "middle")
        .attr("font-family", FONT)
        .attr("font-size", 80)
        .attr("fill", "#000")
        .text(p.title);

    var g = svg.append("g").attr("clip-path", "url(#clip-" + p.id + ")");
    return {y: y, g: g};
}

function addLine(g, y, data, colour, width){
    var line = d3.line()
        .x(function(d){return x(d[0]);})
        .y(function(d){return y(d[1]);});
    g.append("path")
        .datum(data)
        .attr("d", line)
        .attr("fill", "none")
        .attr("stroke", colour)
        .attr("stroke-width", width)
        .attr("stroke-linejoin", "round")
        .attr("stroke-linecap", "round");
}

function addZero(g, y){
    g.append("line")
        .attr("x1", x.range()[0]).attr("x2", x.range()[1])
        .attr("y1", y(0)).attr("y2", y(0))
        .attr("stroke", "#bebebe")
        .attr("stroke-width", 8.5);
}

// top panel
var upper = drawFrame(panels[0]);
addLine(upper.g, upper.y, bgdBlack, "#000000", 7.5);
addLine(upper.g, upper.y, bgdBlue, "#0000ff", 7.5);
addZero(upper.g, upper.y);

// bottom panel
var lower = drawFrame(panels[1]);
lower.g.selectAll("circle.heading")
    .data(headingBand.concat(headingOut))
    .enter().append("circle")
    .attr("class", "heading")
    .attr("cx", function(d){return x(d[0]);})
    .attr("cy", function(d){return lower.y(d[1]);})
    .attr("r", 10.5)
    .attr("fill", "#00ff00");
addLine(lower.g, lower.y, biasBlue, "#0000ff", 6.5);
addLine(lower.g, lower.y, biasRed, "#ff0000", 6.5);
addLine(lower.g, lower.y, biasBlack, "#000000", 6.5);
addZero(lower.g, lower.y);

svg.append("text")
    .attr("x", (x.range()[0] + x.range()[1]) / 2)
    .attr("y", 2450)
    .attr("text-anchor", "middle")
    .attr("font-family", FONT)
    .attr("font-size", 80)
    .attr("fill", "#000")
    .text("Basedate (one tick by analysis)");
</script>
</body>
</html>
